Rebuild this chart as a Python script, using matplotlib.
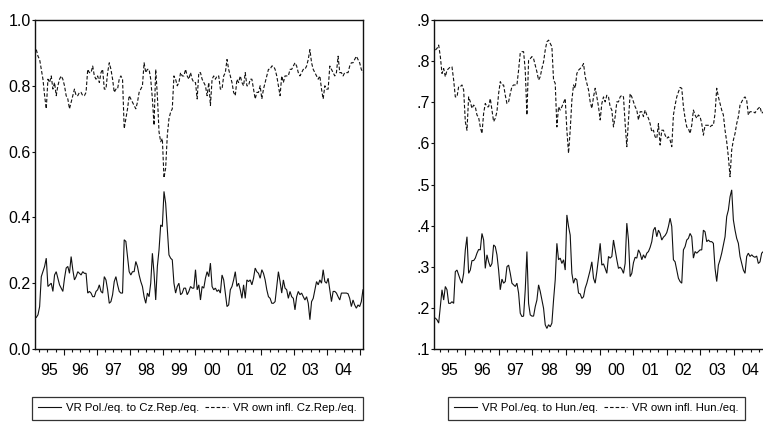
import numpy as np
import matplotlib
matplotlib.use('Agg')
import matplotlib.pyplot as plt
from matplotlib.lines import Line2D
from matplotlib.ticker import FixedLocator

plt.rcParams['font.family'] = ['Liberation Sans', 'DejaVu Sans']

year_labels = ['95', '96', '97', '98', '99', '00', '01', '02', '03', '04']

# Left panel: Poland vs Czech Republic (sampled ~every 2.6 weeks)
cz_own = [
    0.91, 0.89, 0.88, 0.85, 0.82, 0.77, 0.73, 0.82, 0.81, 0.83,
    0.79, 0.81, 0.77, 0.80, 0.82, 0.83, 0.82, 0.80, 0.77, 0.76,
    0.73, 0.75, 0.77, 0.79, 0.77, 0.77, 0.78, 0.78, 0.77, 0.77,
    0.78, 0.85, 0.84, 0.84, 0.86, 0.83, 0.82, 0.83, 0.81, 0.84,
    0.85, 0.79, 0.79, 0.84, 0.87, 0.85, 0.82, 0.78, 0.79, 0.79,
    0.82, 0.83, 0.82, 0.67, 0.70, 0.73, 0.77, 0.76, 0.75, 0.74,
    0.73, 0.75, 0.78, 0.79, 0.80, 0.87, 0.84, 0.85, 0.85, 0.82,
    0.76, 0.68, 0.85, 0.77, 0.66, 0.63, 0.64, 0.52, 0.55, 0.65,
    0.70, 0.72, 0.73, 0.83, 0.82, 0.80, 0.81, 0.84, 0.83, 0.83,
    0.85, 0.83, 0.82, 0.84, 0.82, 0.81,
    0.81, 0.76, 0.84, 0.84, 0.82, 0.81, 0.80, 0.77, 0.81, 0.74,
    0.82, 0.83, 0.82, 0.83, 0.83, 0.79, 0.79, 0.83, 0.84, 0.88,
    0.85, 0.83, 0.81, 0.78, 0.77, 0.82, 0.81, 0.83, 0.81, 0.80,
    0.84, 0.80, 0.80, 0.82, 0.82, 0.79, 0.76, 0.78, 0.78, 0.80,
    0.76, 0.79, 0.81, 0.83, 0.85, 0.85, 0.86, 0.86, 0.85, 0.83,
    0.80, 0.77, 0.83, 0.81, 0.83, 0.83, 0.83, 0.85, 0.85, 0.86,
    0.87, 0.86, 0.84, 0.83, 0.84, 0.85, 0.85, 0.86, 0.88, 0.91,
    0.87, 0.85, 0.84, 0.83, 0.82, 0.83, 0.79, 0.76, 0.80, 0.79,
    0.79, 0.86, 0.85, 0.84, 0.83, 0.84, 0.89, 0.84, 0.84, 0.83,
    0.84, 0.84, 0.84, 0.86, 0.87, 0.87, 0.88, 0.89, 0.88, 0.87,
    0.85, 0.84,
]
cz_pol = [
    0.096, 0.104, 0.129, 0.220, 0.235, 0.251, 0.276, 0.190, 0.195, 0.200,
    0.175, 0.225, 0.235, 0.215, 0.195, 0.185, 0.175, 0.215, 0.246, 0.251,
    0.230, 0.281, 0.241, 0.210, 0.220, 0.235, 0.230, 0.225, 0.235, 0.230,
    0.230, 0.170, 0.175, 0.170, 0.159, 0.159, 0.175, 0.180, 0.195, 0.175,
    0.170, 0.220, 0.210, 0.180, 0.139, 0.144, 0.165, 0.205, 0.220, 0.195,
    0.175, 0.170, 0.170, 0.332, 0.327, 0.281, 0.235, 0.225, 0.235, 0.235,
    0.266, 0.251, 0.225, 0.205, 0.190, 0.159, 0.139, 0.170, 0.159, 0.200,
    0.291, 0.230, 0.149, 0.251, 0.301, 0.377, 0.372, 0.479, 0.443, 0.362,
    0.286, 0.276, 0.271, 0.200, 0.170, 0.190, 0.200, 0.165, 0.170, 0.185,
    0.185, 0.165, 0.175, 0.190, 0.185, 0.185,
    0.241, 0.180, 0.195, 0.149, 0.190, 0.185, 0.215, 0.235, 0.220, 0.261,
    0.190, 0.180, 0.185, 0.175, 0.180, 0.170, 0.225, 0.210, 0.170, 0.129,
    0.134, 0.180, 0.190, 0.210, 0.235, 0.190, 0.200, 0.180, 0.154, 0.195,
    0.154, 0.210, 0.205, 0.210, 0.195, 0.215, 0.246, 0.235, 0.230, 0.215,
    0.241, 0.230, 0.210, 0.180, 0.159, 0.154, 0.139, 0.139, 0.144, 0.190,
    0.235, 0.205, 0.170, 0.210, 0.185, 0.180, 0.154, 0.175, 0.159, 0.154,
    0.119, 0.159, 0.175, 0.165, 0.170, 0.159, 0.149, 0.159, 0.139, 0.089,
    0.144, 0.154, 0.180, 0.205, 0.195, 0.210, 0.200, 0.241, 0.205, 0.200,
    0.215, 0.180, 0.144, 0.175, 0.175, 0.170, 0.159, 0.149, 0.170, 0.170,
    0.170, 0.170, 0.168, 0.154, 0.129, 0.149, 0.134, 0.124, 0.134, 0.129,
    0.144, 0.180,
]

# Right panel: Poland vs Hungary
hu_own = [
    0.827, 0.831, 0.839, 0.811, 0.770, 0.782, 0.762, 0.778, 0.782, 0.786,
    0.786, 0.754, 0.713, 0.713, 0.738, 0.738, 0.742, 0.730, 0.653, 0.632,
    0.713, 0.701, 0.685, 0.693, 0.689, 0.669, 0.663, 0.640, 0.624, 0.673,
    0.697, 0.689, 0.689, 0.709, 0.681, 0.653, 0.661, 0.677, 0.721, 0.750,
    0.742, 0.742, 0.717, 0.697, 0.701, 0.721, 0.738, 0.742, 0.742, 0.742,
    0.778, 0.820, 0.823, 0.823, 0.778, 0.669, 0.802, 0.806, 0.811, 0.806,
    0.790, 0.774, 0.754, 0.762, 0.782, 0.798, 0.827, 0.847, 0.851, 0.843,
    0.835, 0.754, 0.746, 0.640, 0.689, 0.681, 0.689, 0.699, 0.709, 0.632,
    0.576, 0.632, 0.705, 0.742, 0.734, 0.770, 0.778, 0.782, 0.786, 0.794,
    0.762, 0.746, 0.730, 0.701, 0.685, 0.713,
    0.734, 0.713, 0.689, 0.657, 0.697, 0.713, 0.701, 0.717, 0.713, 0.689,
    0.681, 0.640, 0.665, 0.701, 0.701, 0.713, 0.717, 0.713, 0.648, 0.592,
    0.657, 0.721, 0.713, 0.701, 0.689, 0.681, 0.657, 0.677, 0.677, 0.665,
    0.681, 0.669, 0.661, 0.648, 0.628, 0.632, 0.616, 0.612, 0.648, 0.596,
    0.632, 0.632, 0.620, 0.612, 0.616, 0.608, 0.592, 0.669, 0.693, 0.713,
    0.725, 0.736, 0.734, 0.689, 0.661, 0.640, 0.636, 0.624, 0.644, 0.681,
    0.669, 0.661, 0.669, 0.665, 0.648, 0.620, 0.644, 0.644, 0.644, 0.640,
    0.644, 0.644, 0.673, 0.734, 0.713, 0.697, 0.681, 0.669, 0.632, 0.604,
    0.567, 0.519, 0.584, 0.608, 0.624, 0.648, 0.665, 0.693, 0.701, 0.709,
    0.713, 0.705, 0.669, 0.677, 0.677, 0.677, 0.674, 0.681, 0.685, 0.689,
    0.673, 0.677,
]
hu_pol = [
    0.175, 0.171, 0.163, 0.203, 0.244, 0.219, 0.252, 0.244, 0.211, 0.211,
    0.215, 0.211, 0.288, 0.292, 0.280, 0.268, 0.260, 0.284, 0.341, 0.373,
    0.284, 0.292, 0.315, 0.315, 0.321, 0.333, 0.342, 0.341, 0.381, 0.365,
    0.296, 0.329, 0.312, 0.300, 0.308, 0.353, 0.349, 0.329, 0.292, 0.244,
    0.270, 0.260, 0.264, 0.300, 0.304, 0.284, 0.260, 0.256, 0.252, 0.260,
    0.236, 0.187, 0.179, 0.180, 0.244, 0.337, 0.211, 0.183, 0.180, 0.180,
    0.203, 0.219, 0.256, 0.240, 0.219, 0.199, 0.159, 0.150, 0.159, 0.154,
    0.163, 0.219, 0.268, 0.357, 0.317, 0.321, 0.308, 0.317, 0.292, 0.426,
    0.398, 0.377, 0.284, 0.260, 0.272, 0.268, 0.236, 0.234, 0.223, 0.227,
    0.248, 0.260, 0.276, 0.292, 0.312, 0.272,
    0.260, 0.288, 0.321, 0.357, 0.304, 0.307, 0.296, 0.284, 0.325, 0.321,
    0.325, 0.365, 0.341, 0.317, 0.296, 0.299, 0.294, 0.284, 0.308, 0.406,
    0.365, 0.276, 0.284, 0.310, 0.323, 0.321, 0.341, 0.333, 0.317, 0.329,
    0.321, 0.333, 0.337, 0.347, 0.361, 0.389, 0.396, 0.373, 0.389, 0.381,
    0.365, 0.372, 0.376, 0.383, 0.398, 0.418, 0.398, 0.317, 0.312, 0.292,
    0.272, 0.264, 0.260, 0.341, 0.349, 0.365, 0.369, 0.381, 0.373, 0.321,
    0.337, 0.333, 0.337, 0.341, 0.341, 0.389, 0.385, 0.361, 0.365, 0.361,
    0.361, 0.357, 0.296, 0.264, 0.304, 0.317, 0.333, 0.353, 0.373, 0.422,
    0.438, 0.470, 0.487, 0.414, 0.389, 0.369, 0.357, 0.325, 0.308, 0.292,
    0.284, 0.325, 0.333, 0.325, 0.329, 0.325, 0.323, 0.326, 0.308, 0.312,
    0.333, 0.337,
]

# observation date range (decimal years)
left_dates = (1995.162, 2005.09)
right_dates = (1995.114, 2004.876)

left_labels = ['VR Pol./eq. to Cz.Rep./eq.', 'VR own infl. Cz.Rep./eq.']
right_labels = ['VR Pol./eq. to Hun./eq.', 'VR own infl. Hun./eq.']

W, H = 763, 424
fig = plt.figure(figsize=(W / 100, H / 100), dpi=100)
ax1 = fig.add_axes([35 / W, 75 / H, 328 / W, 329 / H])
ax2 = fig.add_axes([434 / W, 75 / H, 333.5 / W, 329 / H])

LW = 0.8
DASH = (3.2, 1.8)
COL = '#111111'


def draw(ax, own, pol, dates, xlim, ylim, yticks, ylabels):
    x1 = np.linspace(dates[0], dates[1], len(own))
    x2 = np.linspace(dates[0], dates[1], len(pol))
    ax.plot(x2, pol, color=COL, lw=LW, solid_joinstyle='miter')
    ax.plot(x1, own, color=COL, lw=LW, dashes=DASH)
    ax.set_xlim(*xlim)
    ax.set_ylim(*ylim)
    ax.set_yticks(yticks)
    ax.set_yticklabels(ylabels)
    majors = [y for y in range(1995, 2007) if xlim[0] <= y <= xlim[1]]
    minors = [y + q for y in range(1995, 2006) for q in (0.25, 0.5, 0.75)
              if xlim[0] <= y + q <= xlim[1]]
    ax.xaxis.set_major_locator(FixedLocator(majors))
    ax.xaxis.set_minor_locator(FixedLocator(minors))
    ax.tick_params(axis='x', which='major', length=4.3, width=0.8,
                   labelbottom=False, color=COL)
    ax.tick_params(axis='x', which='minor', length=2.4, width=0.8, color=COL)
    ax.tick_params(axis='y', length=2.4, width=0.8, pad=0.5,
                   labelsize=11.5, color=COL)
    for s in ax.spines.values():
        s.set_linewidth(1.0)
        s.set_color(COL)
    pos = [max(xlim[0], 1995 + i) for i in range(10)]
    centers = [(p + 1995 + i + 1) / 2 for i, p in enumerate(pos)]
    sec = ax.secondary_xaxis('bottom')
    sec.set_xticks(centers, labels=year_labels)
    sec.tick_params(length=0, pad=10, labelsize=11.5)
    sec.spines['bottom'].set_visible(False)


draw(ax1, cz_own, cz_pol, left_dates, (1995.122, 2005.091), (0.0, 1.0),
     [0.0, 0.2, 0.4, 0.6, 0.8, 1.0], ['0.0', '0.2', '0.4', '0.6', '0.8', '1.0'])
draw(ax2, hu_own, hu_pol, right_dates, (1995.074, 2005.0), (0.1, 0.9),
     [0.1, 0.2, 0.3, 0.4, 0.5, 0.6, 0.7, 0.8, 0.9],
     ['.1', '.2', '.3', '.4', '.5', '.6', '.7', '.8', '.9'])


def legend(labels, x, y):
    handles = [Line2D([], [], color=COL, lw=LW),
               Line2D([], [], color=COL, lw=LW, dashes=DASH)]
    leg = fig.legend(handles, labels, loc='upper left', bbox_to_anchor=(x / W, 1 - y / H),
                     bbox_transform=fig.transFigure, ncol=2, fontsize=8.2,
                     handlelength=2.0, handletextpad=0.45, columnspacing=0.5,
                     borderpad=0.55, borderaxespad=0, frameon=True, fancybox=False,
                     edgecolor='#333333', framealpha=1)
    leg.get_frame().set_linewidth(0.9)


legend(left_labels, 32, 397)
legend(right_labels, 448, 397)

fig.savefig('out.png', dpi=100)
